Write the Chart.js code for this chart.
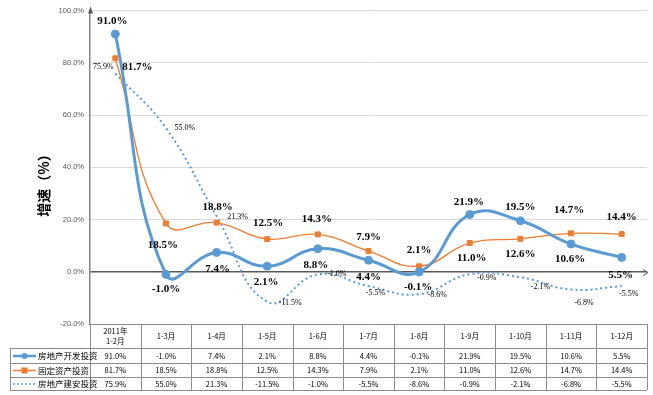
<!DOCTYPE html>
<html>
<head>
<meta charset="utf-8">
<script src="https://cdn.jsdelivr.net/npm/chart.js@4"></script>
<style>
  html, body { margin: 0; padding: 0; background: #fff; }
  #wrap { width: 653px; height: 395px; }
</style>
</head>
<body>
<div id="wrap"><canvas id="growthChart" width="653" height="395"></canvas></div>
<script>
const categories = [["2011年", "1-2月"], "1-3月", "1-4月", "1-5月", "1-6月", "1-7月", "1-8月", "1-9月", "1-10月", "1-11月", "1-12月"];
const seriesNames = ["房地产开发投资", "固定资产投资", "房地产建安投资"];
const devInvest = [91.0, -1.0, 7.4, 2.1, 8.8, 4.4, -0.1, 21.9, 19.5, 10.6, 5.5];
const fixedInvest = [81.7, 18.5, 18.8, 12.5, 14.3, 7.9, 2.1, 11.0, 12.6, 14.7, 14.4];
const buildInvest = [75.9, 55.0, 21.3, -11.5, -1.0, -5.5, -8.6, -0.9, -2.1, -6.8, -5.5];
const yTicks = [-20, 0, 20, 40, 60, 80, 100];

// label placement per point (pixel offsets, style only)
const labelOffsets = [
    [[-3, -13], [0, 15], [1, 17], [-1, 16], [-2, 16], [0, 17], [-1, 15], [-1, -12], [0, -14], [-1, 15], [-1, 18]],
    [[22, 9], [-3, 22], [1, -15], [1, -16], [-1, -15], [0, -14], [0, -16], [2, 15], [0, 15], [-2, -23], [0, -17]],
    [[-12, -7], [19, 0], [21, 1], [23, 1], [19, 0], [7, 7], [18, 1], [17, 4], [20, 10], [13, 13], [7, 8]]
];

const BLUE = "#5b9bd5";
const ORANGE = "#ed7d31";
const GRID = "#d9d9d9";
const BORDER = "#868686";

const fmt = v => v.toFixed(1) + "%";

const labelPlugin = {
    id: "pointLabels",
    afterDatasetsDraw(chart) {
        const ctx = chart.ctx;
        ctx.save();
        ctx.textAlign = "center";
        ctx.textBaseline = "middle";
        ctx.fillStyle = "#000";
        chart.data.datasets.forEach((ds, di) => {
            const meta = chart.getDatasetMeta(di);
            ctx.font = di < 2 ? "bold 11px 'Liberation Serif'" : "8px 'Liberation Serif'";
            meta.data.forEach((pt, i) => {
                const off = labelOffsets[di][i];
                ctx.fillText(fmt(ds.data[i]), pt.x + off[0], pt.y + off[1]);
            });
        });
        ctx.restore();
    }
};

const framePlugin = {
    id: "frame",
    afterDraw(chart) {
        const ctx = chart.ctx;
        const area = chart.chartArea;
        const x = chart.scales.x;
        const y = chart.scales.y;
        const zeroY = Math.round(y.getPixelForValue(0)) + 0.5;
        ctx.save();

        // axis arrows
        ctx.fillStyle = "#595959";
        ctx.beginPath();
        ctx.moveTo(area.left + 0.5, area.top - 4);
        ctx.lineTo(area.left - 2, area.top + 3);
        ctx.lineTo(area.left + 3, area.top + 3);
        ctx.closePath();
        ctx.fill();
        ctx.strokeStyle = "#595959";
        ctx.lineWidth = 1;
        ctx.beginPath();
        ctx.moveTo(area.right - 4, zeroY - 3);
        ctx.lineTo(area.right + 1, zeroY);
        ctx.lineTo(area.right - 4, zeroY + 3);
        ctx.stroke();

        // y title
        ctx.save();
        ctx.translate(44, 182);
        ctx.rotate(-Math.PI / 2);
        ctx.fillStyle = "#000";
        ctx.font = "bold 14px 'Noto Sans CJK SC'";
        ctx.textAlign = "center";
        ctx.textBaseline = "middle";
        ctx.fillText("增速（%）", 0, 0);
        ctx.restore();

        // data table
        const colW = (area.right - area.left) / categories.length;
        const rowTops = [area.bottom, 348, 363, 377, 390];
        const tableLeft = 10;
        const tableRight = area.left + colW * categories.length;
        ctx.strokeStyle = "#8c8c8c";
        ctx.lineWidth = 1;
        ctx.beginPath();
        ctx.moveTo(area.left, rowTops[0] + 0.5);
        ctx.lineTo(tableRight, rowTops[0] + 0.5);
        for (let r = 1; r < rowTops.length; r++) {
            ctx.moveTo(tableLeft, rowTops[r] + 0.5);
            ctx.lineTo(tableRight, rowTops[r] + 0.5);
        }
        ctx.moveTo(tableLeft + 0.5, rowTops[1]);
        ctx.lineTo(tableLeft + 0.5, rowTops[4]);
        for (let c = 0; c <= categories.length; c++) {
            const cx = Math.round(area.left + colW * c) + 0.5;
            ctx.moveTo(cx, rowTops[0]);
            ctx.lineTo(cx, rowTops[4]);
        }
        ctx.stroke();

        ctx.fillStyle = "#000";
        ctx.textAlign = "center";
        ctx.textBaseline = "middle";
        ctx.font = "7.5px 'Noto Sans CJK SC'";
        categories.forEach((cat, i) => {
            const cx = x.getPixelForValue(i);
            const midY = (rowTops[0] + rowTops[1]) / 2;
            if (Array.isArray(cat)) {
                ctx.fillText(cat[0], cx, midY - 5);
                ctx.fillText(cat[1], cx, midY + 5);
            } else {
                ctx.fillText(cat, cx, midY);
            }
        });
        const rows = [devInvest, fixedInvest, buildInvest];
        rows.forEach((vals, r) => {
            const midY = (rowTops[r + 1] + rowTops[r + 2]) / 2 + 0.5;
            vals.forEach((v, i) => {
                ctx.fillText(fmt(v), x.getPixelForValue(i), midY);
            });
        });

        // legend keys in the first column
        ctx.textAlign = "left";
        rows.forEach((vals, r) => {
            const midY = (rowTops[r + 1] + rowTops[r + 2]) / 2 + 0.5;
            const ds = chart.data.datasets[r];
            ctx.save();
            ctx.strokeStyle = ds.borderColor;
            ctx.lineWidth = r === 0 ? 2.5 : 1.5;
            ctx.setLineDash(r === 2 ? [2, 2] : []);
            ctx.beginPath();
            ctx.moveTo(13, midY);
            ctx.lineTo(36, midY);
            ctx.stroke();
            ctx.restore();
            ctx.fillStyle = ds.borderColor;
            if (r === 0) {
                ctx.beginPath();
                ctx.arc(24.5, midY, 3, 0, Math.PI * 2);
                ctx.fill();
            } else if (r === 1) {
                ctx.fillRect(21.5, midY - 3, 6, 6);
            }
            ctx.fillStyle = "#000";
            ctx.font = "8.5px 'Noto Sans CJK SC'";
            ctx.fillText(seriesNames[r], 38, midY);
        });
        ctx.restore();
    }
};

new Chart(document.getElementById("growthChart"), {
    type: "line",
    data: {
        labels: categories,
        datasets: [
            {
                label: seriesNames[0],
                data: devInvest,
                borderColor: BLUE,
                backgroundColor: BLUE,
                borderWidth: 3,
                pointRadius: 4,
                pointBorderWidth: 1,
                pointStyle: "circle",
                tension: 0.45
            },
            {
                label: seriesNames[1],
                data: fixedInvest,
                borderColor: ORANGE,
                backgroundColor: ORANGE,
                borderWidth: 1.3,
                pointRadius: 3.5,
                pointBorderWidth: 1,
                pointStyle: "rect",
                tension: 0.45
            },
            {
                label: seriesNames[2],
                data: buildInvest,
                borderColor: BLUE,
                backgroundColor: BLUE,
                borderWidth: 2,
                borderDash: [2, 3],
                pointRadius: 0,
                tension: 0.45
            }
        ]
    },
    options: {
        responsive: false,
        animation: false,
        layout: { padding: { left: 0, right: 6, top: 10, bottom: 71 } },
        plugins: {
            legend: { display: false },
            tooltip: { enabled: false }
        },
        scales: {
            x: {
                display: false,
                offset: true
            },
            y: {
                min: -20,
                max: 100,
                afterFit: scale => { scale.width = 90; },
                afterBuildTicks: scale => { scale.ticks = yTicks.map(v => ({ value: v })); },
                border: { color: BORDER, width: 1.5 },
                grid: {
                    drawTicks: false,
                    color: ctx => ctx.tick && ctx.tick.value === 0 ? "#595959" : GRID,
                    lineWidth: ctx => ctx.tick && ctx.tick.value === 0 ? 1.5 : 1
                },
                ticks: {
                    padding: 6,
                    color: "#595959",
                    font: { family: "'Liberation Sans'", size: 7.5 },
                    callback: v => v.toFixed(1) + "%"
                }
            }
        }
    },
    plugins: [labelPlugin, framePlugin]
});
</script>
</body>
</html>
